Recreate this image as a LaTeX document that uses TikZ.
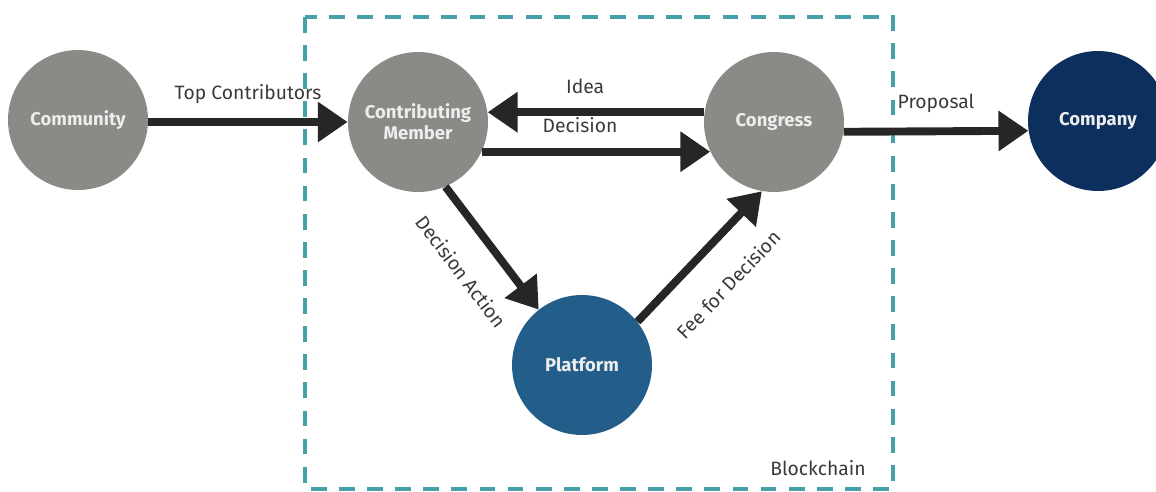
\documentclass[tikz,border=0pt]{standalone}
\usepackage{fontspec}
\setmainfont{Fira Sans}
\usetikzlibrary{arrows.meta,positioning}
\definecolor{nodegray}{RGB}{138,139,134}
\definecolor{platblue}{RGB}{35,94,138}
\definecolor{compblue}{RGB}{13,47,94}
\definecolor{chainteal}{RGB}{70,160,170}
\definecolor{arrowdark}{RGB}{38,38,38}
\definecolor{labelgray}{RGB}{58,58,58}
\tikzset{
    actor/.style={circle, minimum size=2.8cm, inner sep=0pt, text=white!93!black, font=\bfseries\fontsize{10.5}{12}\selectfont, align=center},
    flow/.style={draw=arrowdark, line width=4.5pt, -{Triangle[length=17pt, width=22pt]}},
    flowlabel/.style={text=labelgray, font=\fontsize{11}{12}\selectfont}
}
\begin{document}
\begin{tikzpicture}[x=0.02cm, y=-0.02cm]
    \useasboundingbox (0,0) rectangle (1156,491);
    \draw[chainteal, line width=1.8pt, dash pattern=on 9pt off 7pt] (305,17) rectangle (893,489);
    \node[flowlabel] (bc) at (818,468) {Blockchain};

    \node[actor, fill=nodegray] (com) at (78,120) {Community};
    \node[actor, fill=nodegray] (cm) at (418,122) {Contributing\\Member};
    \node[actor, fill=nodegray] (cg) at (774,122) {Congress};
    \node[actor, fill=compblue] (co) at (1098,121) {Company};
    \node[actor, fill=platblue] (pf) at (582,365) {Platform};

    \draw[flow] (com.east |- cm.west) -- (cm.west) node[flowlabel, midway, above=5pt] {Top Contributors};
    \draw[flow] (cg.172) -- (cm.8) node[flowlabel, pos=0.55, above=5pt] {Idea};
    \draw[flow] (cm.-25) -- (cg.205) node[flowlabel, pos=0.43, above=5pt] {Decision};
    \draw[flow] (cg.-8) -- (co.188) node[flowlabel, midway, above=5pt] {Proposal};
    \draw[flow] (cm.-67) -- (pf.128) node[flowlabel, midway, sloped, below=12pt] {Decision Action};
    \draw[flow] (pf.38) -- (cg.-100) node[flowlabel, midway, sloped, below=13pt] {Fee for Decision};
\end{tikzpicture}
\end{document}
